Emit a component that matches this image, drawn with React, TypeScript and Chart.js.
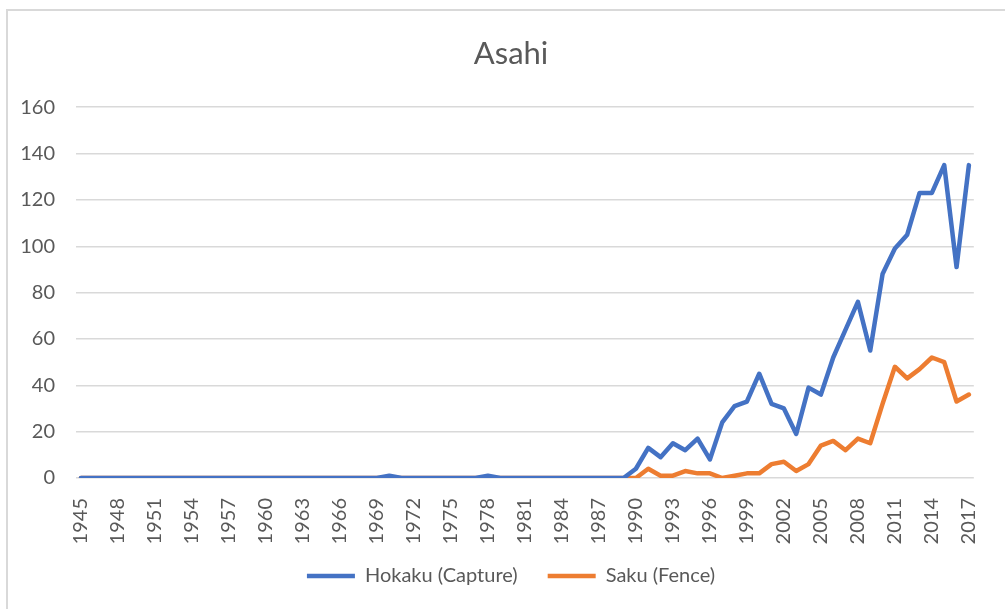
import React, { useEffect, useRef } from "react";
import { Chart, registerables } from "chart.js";

Chart.register(...registerables);

const years = [
  1945, 1946, 1947, 1948, 1949, 1950, 1951, 1952, 1953, 1954, 1955, 1956, 1957, 1958, 1959,
  1960, 1961, 1962, 1963, 1964, 1965, 1966, 1967, 1968, 1969, 1970, 1971, 1972, 1973, 1974,
  1975, 1976, 1977, 1978, 1979, 1980, 1981, 1982, 1983, 1984, 1985, 1986, 1987, 1988, 1989,
  1990, 1991, 1992, 1993, 1994, 1995, 1996, 1997, 1998, 1999, 2000, 2001, 2002, 2003, 2004,
  2005, 2006, 2007, 2008, 2009, 2010, 2011, 2012, 2013, 2014, 2015, 2016, 2017,
];

const tickYears = [
  1945, 1948, 1951, 1954, 1957, 1960, 1963, 1966, 1969, 1972, 1975, 1978, 1981, 1984, 1987,
  1990, 1993, 1996, 1999, 2002, 2005, 2008, 2011, 2014, 2017,
];

const hokaku = [
  0, 0, 0, 0, 0, 0, 0, 0, 0, 0, 0, 0, 0, 0, 0,
  0, 0, 0, 0, 0, 0, 0, 0, 0, 0, 1, 0, 0, 0, 0,
  0, 0, 0, 1, 0, 0, 0, 0, 0, 0, 0, 0, 0, 0, 0,
  4, 13, 9, 15, 12, 17, 8, 24, 31, 33, 45, 32, 30, 19, 39,
  36, 52, 64, 76, 55, 88, 99, 105, 123, 123, 135, 91, 135,
];

const saku = [
  0, 0, 0, 0, 0, 0, 0, 0, 0, 0, 0, 0, 0, 0, 0,
  0, 0, 0, 0, 0, 0, 0, 0, 0, 0, 0, 0, 0, 0, 0,
  0, 0, 0, 0, 0, 0, 0, 0, 0, 0, 0, 0, 0, 0, 0,
  0, 4, 1, 1, 3, 2, 2, 0, 1, 2, 2, 6, 7, 3, 6,
  14, 16, 12, 17, 15, 32, 48, 43, 47, 52, 50, 33, 36,
];

const yTicks = [0, 20, 40, 60, 80, 100, 120, 140, 160];

const seriesNames = ["Hokaku (Capture)", "Saku (Fence)"];
const title = "Asahi";

const FONT = "Lato, 'Open Sans', sans-serif";
const TEXT = "#595959";
const GRID = "#d9d9d9";

const shiftBoxes = {
  id: "shiftBoxes",
  afterLayout(chart: any) {
    if (chart.titleBlock) chart.titleBlock.left = 37;
    if (chart.legend) {
      chart.legend.left = 37;
      chart.legend.top -= 12;
      chart.legend.bottom -= 12;
    }
  },
};

export default function App() {
  const ref = useRef<HTMLCanvasElement | null>(null);

  useEffect(() => {
    if (!ref.current) return;
    const toPts = (vals: number[]) => years.map((y, i) => ({ x: y, y: vals[i] }));
    const chart = new Chart(ref.current, {
      type: "line",
      data: {
        datasets: [
          {
            label: seriesNames[0],
            data: toPts(hokaku),
            borderColor: "#4472C4",
            backgroundColor: "#4472C4",
            borderWidth: 4.5,
            pointRadius: 0,
            borderCapStyle: "round",
            borderJoinStyle: "round",
            tension: 0,
          },
          {
            label: seriesNames[1],
            data: toPts(saku),
            borderColor: "#ED7D31",
            backgroundColor: "#ED7D31",
            borderWidth: 4.5,
            pointRadius: 0,
            borderCapStyle: "round",
            borderJoinStyle: "round",
            tension: 0,
          },
        ],
      },
      plugins: [shiftBoxes],
      options: {
        animation: false,
        responsive: true,
        maintainAspectRatio: false,
        layout: { padding: { left: 0, right: 20, top: 0, bottom: 1 } },
        plugins: {
          title: {
            display: true,
            text: title,
            color: TEXT,
            font: { family: FONT, size: 31, weight: "normal" },
            padding: { top: 35, bottom: 35 },
          },
          legend: {
            position: "bottom",
            labels: {
              color: TEXT,
              font: { family: FONT, size: 20 },
              usePointStyle: true,
              pointStyle: "line",
              pointStyleWidth: 48,
              padding: 30,
            },
          },
          tooltip: { enabled: false },
        },
        scales: {
          x: {
            type: "linear",
            min: 1944.6,
            max: 2017.4,
            grid: { display: false },
            border: { display: false },
            afterBuildTicks: (scale: any) => {
              scale.ticks = tickYears.map((v) => ({ value: v }));
            },
            afterFit: (scale: any) => {
              scale.height = 70;
            },
            ticks: {
              color: TEXT,
              font: { family: FONT, size: 20 },
              minRotation: 90,
              maxRotation: 90,
              autoSkip: false,
              padding: 12,
              callback: (v: any) => String(v),
            },
          },
          y: {
            min: 0,
            max: 160,
            afterBuildTicks: (scale: any) => {
              scale.ticks = yTicks.map((v) => ({ value: v }));
            },
            afterFit: (scale: any) => {
              scale.width = 76;
            },
            grid: { color: GRID, lineWidth: 1.5, drawTicks: false },
            border: { display: false },
            ticks: {
              color: TEXT,
              font: { family: FONT, size: 20 },
              padding: 21,
              callback: (v: any) => String(v),
            },
          },
        },
      },
    });
    return () => chart.destroy();
  }, []);

  return (
    <div
      style={{
        position: "fixed",
        left: 0,
        top: 0,
        width: 1005,
        height: 609,
        overflow: "hidden",
        background: "#fff",
      }}
    >
      <div
        style={{
          position: "absolute",
          left: 6,
          top: 9,
          width: 1010,
          height: 620,
          borderTop: `2px solid ${GRID}`,
          borderLeft: `2px solid ${GRID}`,
        }}
      />
      <div style={{ position: "absolute", left: 0, top: 0, width: 1005, height: 609 }}>
        <canvas ref={ref} />
      </div>
    </div>
  );
}
